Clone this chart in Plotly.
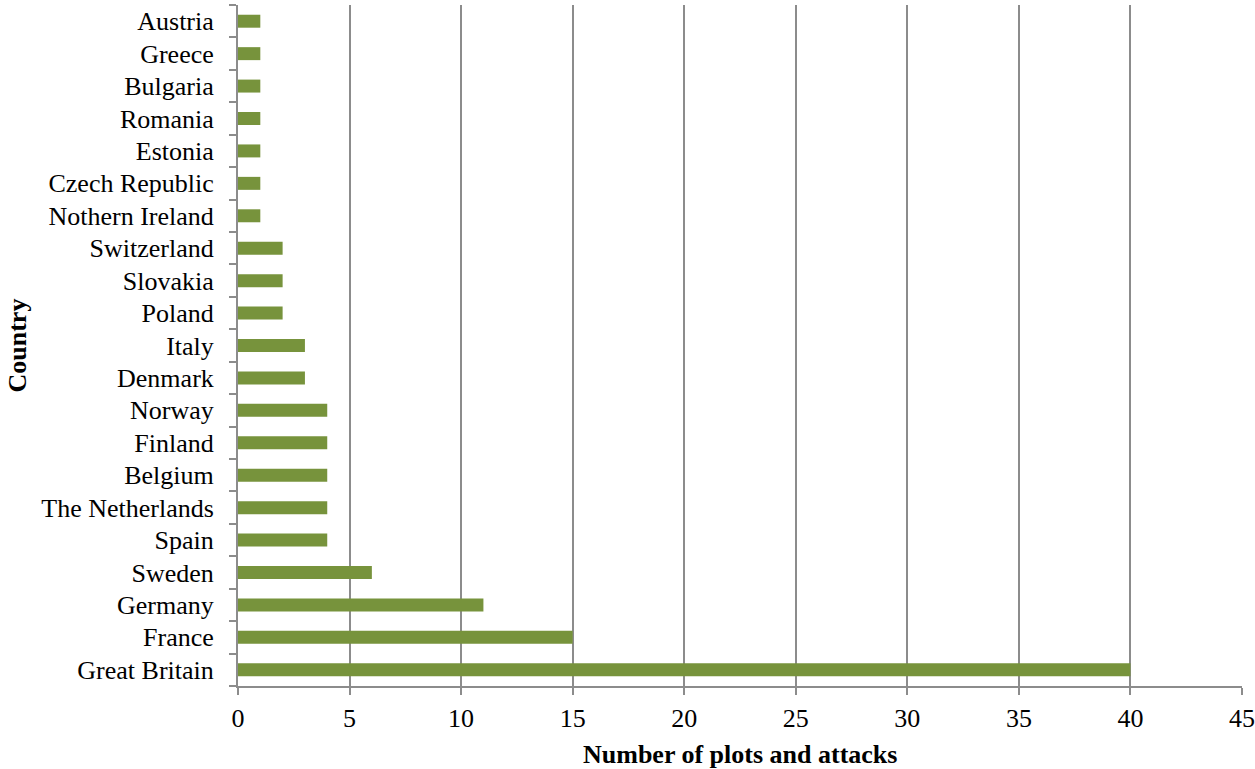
import plotly.graph_objects as go

# Countries listed bottom-to-top as drawn on the category axis
countries = [
    "Great Britain", "France", "Germany", "Sweden", "Spain", "The Netherlands",
    "Belgium", "Finland", "Norway", "Denmark", "Italy", "Poland", "Slovakia",
    "Switzerland", "Nothern Ireland", "Czech Republic", "Estonia", "Romania",
    "Bulgaria", "Greece", "Austria",
]
plots_attacks = [40, 15, 11, 6, 4, 4, 4, 4, 4, 3, 3, 2, 2, 2, 1, 1, 1, 1, 1, 1, 1]
x_ticks = [0, 5, 10, 15, 20, 25, 30, 35, 40, 45]

BAR = "#77933C"
GRID = "#8c8c8c"
FONT = "Liberation Serif, Times New Roman, serif"

fig = go.Figure(
    go.Bar(
        x=plots_attacks,
        y=countries,
        orientation="h",
        marker=dict(color=BAR, line=dict(width=0)),
    )
)

fig.update_layout(
    width=1255,
    height=769,
    margin=dict(l=238, r=13, t=5, b=83, autoexpand=False),
    paper_bgcolor="white",
    plot_bgcolor="white",
    bargap=0.6,
    showlegend=False,
    font=dict(family=FONT, size=26, color="black"),
    annotations=[
        dict(
            text="<b>Number of plots and attacks</b>",
            xref="paper", yref="paper", x=0.5, y=0,
            yshift=-68, xanchor="center", yanchor="middle",
            showarrow=False, font=dict(family=FONT, size=26),
        ),
        dict(
            text="<b>Country</b>",
            xref="paper", yref="paper", x=0, y=0.5,
            xshift=-221, xanchor="center", yanchor="middle",
            textangle=-90, showarrow=False, font=dict(family=FONT, size=26),
        ),
    ],
)

fig.update_xaxes(
    range=[0, 45],
    tickvals=x_ticks,
    ticktext=[str(v) for v in x_ticks],
    showgrid=True,
    gridcolor=GRID,
    gridwidth=1.5,
    zeroline=False,
    showline=True,
    linecolor=GRID,
    linewidth=2,
    ticks="outside",
    ticklen=7,
    tickwidth=2,
    tickcolor=GRID,
    ticklabelstandoff=1,
    ticklabeloverflow="allow",
    automargin=False,
    fixedrange=True,
)

fig.update_yaxes(
    type="category",
    categoryorder="array",
    categoryarray=countries,
    showgrid=False,
    zeroline=False,
    showline=True,
    linecolor=GRID,
    linewidth=2,
    ticks="outside",
    tickson="boundaries",
    ticklen=7,
    tickwidth=2,
    tickcolor=GRID,
    ticklabelstandoff=17,
    automargin=False,
    fixedrange=True,
)

fig.write_html("out.html")
